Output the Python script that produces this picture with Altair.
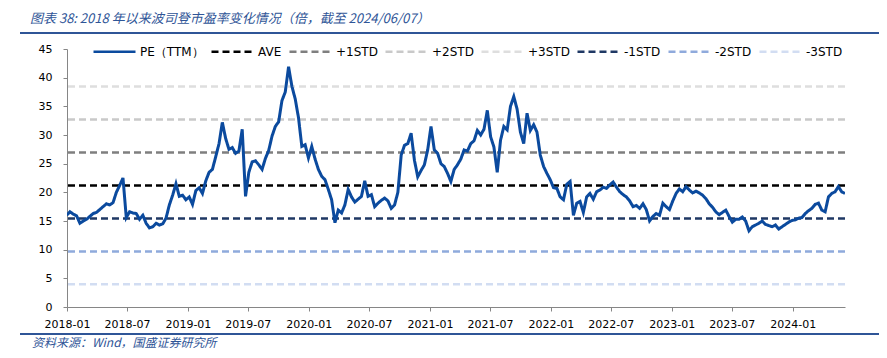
import altair as alt
import pandas as pd

# PE (TTM) values, one every 10 days ending 2024-06-07
pe_values = [
    16.0, 16.6, 16.2, 15.9, 14.6, 15.0, 15.3, 15.8, 16.3, 16.5,
    17.0, 17.5, 18.0, 17.8, 18.2, 20.0, 21.2, 22.5, 15.6, 16.6,
    16.4, 16.3, 15.3, 16.0, 14.6, 13.8, 14.0, 14.6, 14.3, 14.5,
    15.5, 17.8, 19.5, 21.5, 19.3, 19.5, 18.7, 19.2, 17.9, 20.3,
    20.8, 19.8, 22.0, 23.5, 24.0, 26.2, 28.5, 32.2, 29.4, 27.5,
    27.8, 26.8, 27.2, 31.0, 19.3, 23.5, 25.3, 25.5, 24.8, 24.0,
    25.9, 27.3, 29.8, 31.5, 32.3, 36.0, 37.5, 41.9, 38.5, 36.3,
    33.0, 28.0, 28.3, 26.0, 28.0, 25.8, 24.0, 22.8, 22.2, 20.5,
    18.7, 14.7, 16.9, 16.4, 17.8, 20.5, 19.2, 18.3, 18.8, 19.3,
    22.0, 19.3, 19.6, 17.5, 18.1, 18.6, 19.0, 18.5, 17.2, 17.8,
    20.0, 26.5, 28.2, 28.5, 30.3, 25.6, 22.7, 23.8, 24.8, 27.4,
    31.5, 27.4, 26.8, 25.0, 24.5, 23.3, 21.9, 24.0, 24.8, 25.8,
    27.4, 27.2, 28.5, 29.0, 30.8, 30.0, 31.0, 34.3, 29.7, 27.9,
    23.5, 29.1, 31.5, 30.9, 35.0, 36.7, 34.5, 30.5, 28.5, 33.8,
    30.8, 31.8, 30.5, 26.5, 24.5, 23.3, 22.2, 20.8, 20.7, 19.2,
    18.7, 21.4, 21.9, 16.0, 18.1, 18.4, 16.5, 19.2, 19.8, 18.8,
    20.1, 20.4, 20.9, 20.7, 21.3, 21.8, 20.9, 20.1, 19.6, 19.2,
    18.5, 17.5, 17.7, 17.2, 18.0, 17.0, 15.0, 15.8, 16.3, 16.0,
    18.1, 17.5, 17.0, 18.5, 19.8, 20.6, 20.1, 21.0, 20.4, 19.9,
    20.2, 19.9, 19.5, 18.9, 18.0, 17.4, 16.6, 16.1, 16.5, 16.9,
    15.8, 14.8, 15.3, 15.3, 15.7, 15.0, 13.3, 14.0, 14.3, 14.6,
    15.0, 14.4, 14.2, 14.0, 14.3, 13.6, 14.0, 14.4, 14.8, 15.1,
    15.2, 15.5, 15.6, 16.3, 16.8, 17.2, 17.9, 18.1, 16.9, 16.6,
    19.2, 19.8, 20.1, 21.0, 20.1, 19.8,
]
pe_dates = pd.date_range(end="2024-06-07", periods=len(pe_values), freq="10D")

series_names = ["PE（TTM）", "AVE", "+1STD", "+2STD", "+3STD", "-1STD", "-2STD", "-3STD"]
band_levels = [21.2, 26.95, 32.7, 38.45, 15.45, 9.7, 3.95]
series_colors = ["#0B4A9E", "#000000", "#7F7F7F", "#C9C9C9", "#DEDEDE",
                 "#1F3864", "#8FAADC", "#D2DDF2"]
series_dashes = [[1, 0], [7, 4], [7, 4], [7, 4], [7, 4], [7, 4], [7, 4], [7, 4]]

tick_years = [2018, 2018, 2019, 2019, 2020, 2020, 2021, 2021, 2022, 2022, 2023, 2023, 2024]
tick_months = [1, 7, 1, 7, 1, 7, 1, 7, 1, 7, 1, 7, 1]
y_ticks = [0, 5, 10, 15, 20, 25, 30, 35, 40, 45]

title_text = "图表 38: 2018 年以来波司登市盈率变化情况（倍，截至 2024/06/07）"
source_text = "资料来源：Wind，国盛证券研究所"
accent = "#2F5597"

pe_df = pd.DataFrame({"date": pe_dates, "pe": pe_values, "series": series_names[0]})
band_df = pd.DataFrame({"series": series_names[1:], "level": band_levels})

legend = alt.Legend(
    title=None, orient="none", legendX=25, legendY=-20, direction="horizontal",
    symbolType="stroke", symbolSize=1764, symbolStrokeWidth=2.5,
    labelFont="DejaVu Sans", labelFontSize=12, labelColor="#000000",
    labelOffset=3, columnPadding=2,
)
color = alt.Color("series:N", scale=alt.Scale(domain=series_names, range=series_colors), legend=legend)
dash = alt.StrokeDash("series:N", scale=alt.Scale(domain=series_names, range=series_dashes), legend=legend)

y_scale = alt.Scale(domain=[0, 45], nice=False)
y_axis = alt.Axis(title=None, values=y_ticks, grid=False, tickSize=4, labelPadding=11,
                  labelFont="DejaVu Sans", labelFontSize=11, labelColor="#000000",
                  domainColor="#868686", tickColor="#868686")

x_axis = alt.Axis(
    title=None, format="%Y-%m", grid=False, tickSize=4, labelPadding=7,
    values=[alt.DateTime(year=y, month=m, date=1) for y, m in zip(tick_years, tick_months)],
    labelFont="DejaVu Sans", labelFontSize=11, labelColor="#000000",
    domainColor="#868686", tickColor="#868686", labelOverlap=False, labelFlush=False,
)
x_scale = alt.Scale(domain=[alt.DateTime(year=2018, month=1, date=1),
                            alt.DateTime(year=2024, month=6, date=7)])

bands = alt.Chart(band_df).mark_rule(strokeWidth=2.5).encode(
    y=alt.Y("level:Q", scale=y_scale, axis=y_axis),
    color=color, strokeDash=dash,
)
line = alt.Chart(pe_df).mark_line(strokeWidth=3, clip=True).encode(
    x=alt.X("date:T", scale=x_scale, axis=x_axis),
    y=alt.Y("pe:Q", scale=y_scale, axis=y_axis),
    color=color, strokeDash=dash,
)

title = alt.Chart(pd.DataFrame({"t": [title_text]})).mark_text(
    align="left", baseline="middle", font="Noto Sans CJK SC", fontStyle="italic",
    fontSize=13, color=accent,
).encode(x=alt.value(-37), y=alt.value(-30), text="t:N")

source = alt.Chart(pd.DataFrame({"t": [source_text]})).mark_text(
    align="left", baseline="middle", font="Noto Sans CJK SC", fontStyle="italic",
    fontSize=12, color=accent,
).encode(x=alt.value(-35), y=alt.value(294), text="t:N")

top_rule = alt.Chart(pd.DataFrame({"a": [0]})).mark_rule(color=accent, strokeWidth=2).encode(
    x=alt.value(-47), x2=alt.value(812), y=alt.value(-16))
bottom_rule = alt.Chart(pd.DataFrame({"a": [0]})).mark_rule(color=accent, strokeWidth=2).encode(
    x=alt.value(-47), x2=alt.value(812), y=alt.value(285))

chart = alt.layer(bands, line, title, source, top_rule, bottom_rule).properties(
    width=778, height=258,
    padding={"left": 59, "top": 41, "right": 34, "bottom": 43},
    autosize=alt.AutoSizeParams(type="none"),
).configure_view(stroke=None)

chart.save("out.html", embed_options={"renderer": "svg", "actions": False})
